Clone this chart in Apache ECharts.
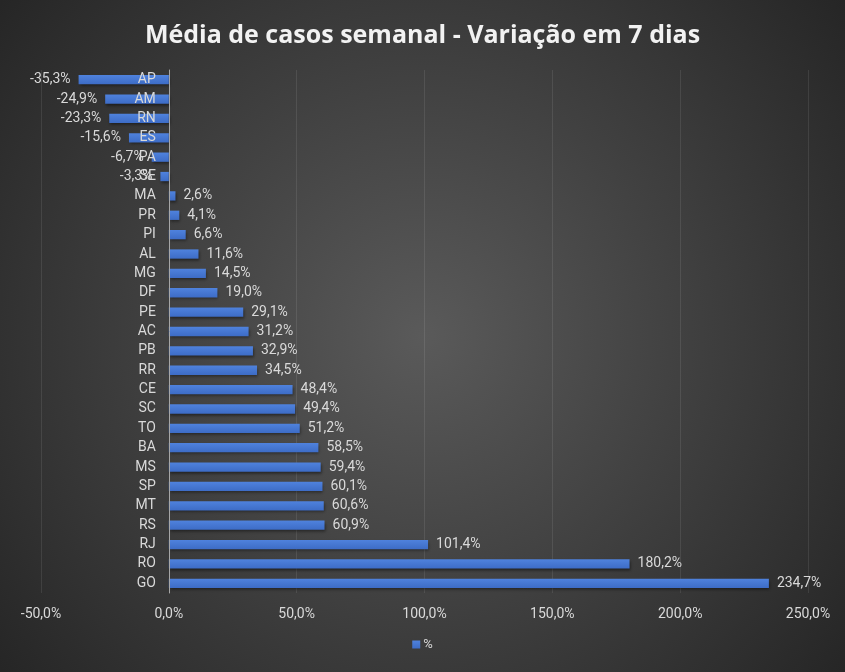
<!DOCTYPE html>
<html>
<head>
<meta charset="utf-8">
<script src="https://cdn.jsdelivr.net/npm/echarts@6/dist/echarts.min.js"></script>
<style>
  html, body { margin: 0; padding: 0; background: #2a2a2a; }
  #chart { width: 845px; height: 672px; }
</style>
</head>
<body>
<div id="chart"></div>
<script>
const states = ['AP', 'AM', 'RN', 'ES', 'PA', 'SE', 'MA', 'PR', 'PI', 'AL', 'MG', 'DF', 'PE', 'AC',
  'PB', 'RR', 'CE', 'SC', 'TO', 'BA', 'MS', 'SP', 'MT', 'RS', 'RJ', 'RO', 'GO'];
const variation = [-35.3, -24.9, -23.3, -15.6, -6.7, -3.3, 2.6, 4.1, 6.6, 11.6, 14.5, 19.0, 29.1, 31.2,
  32.9, 34.5, 48.4, 49.4, 51.2, 58.5, 59.4, 60.1, 60.6, 60.9, 101.4, 180.2, 234.7];
const xTicks = [-50, 0, 50, 100, 150, 200, 250];

// formato brasileiro: virgula decimal
function pct(v) {
  return v.toFixed(1).replace('.', ',') + '%';
}

const W = 845;
const gridLeft = 41, gridRight = 37;
const xMin = xTicks[0], xMax = xTicks[xTicks.length - 1];
// eixo de categorias desenhado sobre o zero (como no Excel)
const zeroOffset = (W - gridLeft - gridRight) * (0 - xMin) / (xMax - xMin);

const chart = echarts.init(document.getElementById('chart'));

const option = {
  backgroundColor: {
    type: 'radial', x: 0.5, y: 0.5, r: 0.8,
    colorStops: [
      { offset: 0, color: '#5a5a5a' },
      { offset: 1, color: '#262626' }
    ]
  },
  textStyle: { fontFamily: 'Roboto' },
  title: {
    text: 'Média de casos semanal - Variação em 7 dias',
    left: 'center',
    top: 18,
    textStyle: {
      color: '#f2f2f2',
      fontFamily: 'Open Sans',
      fontWeight: 'bold',
      fontSize: 25
    }
  },
  legend: {
    bottom: 16,
    left: 'center',
    itemWidth: 8,
    itemHeight: 8,
    itemGap: 4,
    icon: 'rect',
    textStyle: { color: '#d9d9d9', fontSize: 13, padding: [0, 0, 0, -2] },
    data: ['%']
  },
  grid: {
    left: gridLeft,
    right: gridRight,
    top: 70,
    bottom: 79
  },
  xAxis: {
    type: 'value',
    min: xMin,
    max: xMax,
    interval: 50,
    axisLine: { show: false },
    axisTick: { show: false },
    axisLabel: {
      color: '#d9d9d9',
      fontSize: 14,
      margin: 14,
      formatter: function (v) { return pct(v); }
    },
    splitLine: {
      lineStyle: { color: 'rgba(255,255,255,0.09)', width: 1 }
    }
  },
  yAxis: {
    type: 'category',
    inverse: true,
    data: states,
    offset: -zeroOffset,
    z: 5,
    axisLine: {
      onZero: false,
      lineStyle: { color: '#a6a6a6', width: 1 }
    },
    axisTick: { show: false },
    axisLabel: {
      color: '#d9d9d9',
      fontSize: 14,
      margin: 13
    }
  },
  series: [{
    name: '%',
    type: 'bar',
    barWidth: '48%',
    itemStyle: {
      color: {
        type: 'linear', x: 0, y: 0, x2: 0, y2: 1,
        colorStops: [
          { offset: 0, color: '#4f82dd' },
          { offset: 1, color: '#3d6cc6' }
        ]
      },
      shadowBlur: 3,
      shadowColor: 'rgba(0,0,0,0.45)',
      shadowOffsetX: 1,
      shadowOffsetY: 2
    },
    label: {
      show: true,
      color: '#d9d9d9',
      fontSize: 14,
      distance: 8,
      formatter: function (p) { return pct(p.value); }
    },
    data: variation.map(function (v) {
      return { value: v, label: { position: v < 0 ? 'left' : 'right' } };
    })
  }]
};

chart.setOption(option);
</script>
</body>
</html>
